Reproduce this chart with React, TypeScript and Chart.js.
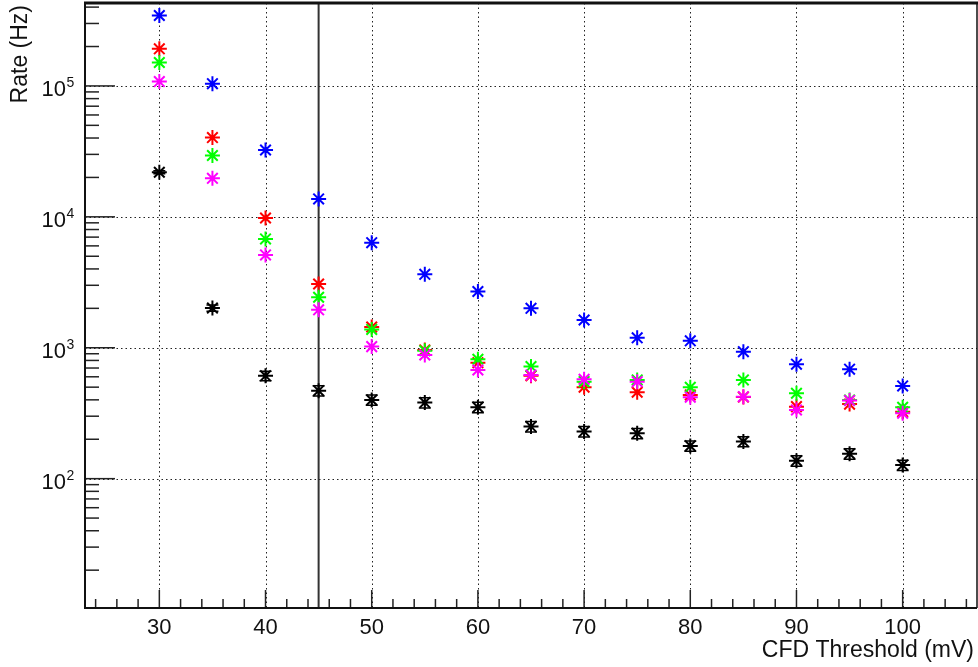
import React, { useEffect, useRef } from "react";
import { Chart, registerables } from "chart.js";

Chart.register(...registerables);

// ---- data ----
const thresholds = [30, 35, 40, 45, 50, 55, 60, 65, 70, 75, 80, 85, 90, 95, 100];
const blueRates = [345000, 104000, 32400, 13700, 6350, 3640, 2690, 2000, 1630, 1190, 1130, 933, 749, 686, 511];
const redRates = [192000, 40300, 9800, 3070, 1440, 962, 769, 610, 499, 457, 436, 420, 355, 371, 325];
const greenRates = [151000, 29400, 6780, 2430, 1380, 950, 817, 718, 551, 568, 499, 568, 449, 399, 351];
const magentaRates = [108000, 19700, 5120, 1950, 1020, 881, 676, 620, 574, 551, 419, 423, 335, 395, 316];
const blackRates = [21900, 2010, 610, 470, 399, 381, 351, 250, 229, 222, 178, 192, 137, 155, 127];
const blackErrors = [600, 110, 50, 42, 36, 34, 32, 23, 21, 20, 16, 17, 12.5, 14, 11.5];

const xTickLabels = [30, 40, 50, 60, 70, 80, 90, 100];
const yTickExponents = [2, 3, 4, 5];
const cutThreshold = 45;
const xTitle = "CFD Threshold (mV)";
const yTitle = "Rate (Hz)";

const FONT = "'Liberation Sans', Arial, Helvetica, sans-serif";

const rootPlugin = {
  id: "rootStyle",
  beforeDatasetsDraw(chart: any) {
    const { ctx, chartArea: a, scales } = chart;
    const x = scales.x;
    const y = scales.y;
    ctx.save();
    // dotted grid
    ctx.strokeStyle = "#222";
    ctx.lineWidth = 1;
    ctx.setLineDash([1.5, 3]);
    for (const v of xTickLabels) {
      const px = Math.round(x.getPixelForValue(v)) + 0.5;
      ctx.beginPath();
      ctx.moveTo(px, a.top);
      ctx.lineTo(px, a.bottom);
      ctx.stroke();
    }
    for (const e of yTickExponents) {
      const py = Math.round(y.getPixelForValue(Math.pow(10, e))) + 0.5;
      ctx.beginPath();
      ctx.moveTo(a.left, py);
      ctx.lineTo(a.right, py);
      ctx.stroke();
    }
    ctx.setLineDash([]);
    // cut line
    const cx = x.getPixelForValue(cutThreshold);
    ctx.strokeStyle = "#333";
    ctx.lineWidth = 2;
    ctx.beginPath();
    ctx.moveTo(cx, a.bottom);
    ctx.lineTo(cx, a.top);
    ctx.stroke();
    // error bars
    ctx.strokeStyle = "#000";
    ctx.lineWidth = 1.5;
    thresholds.forEach((t, i) => {
      const px = x.getPixelForValue(t);
      const yHi = y.getPixelForValue(blackRates[i] + blackErrors[i]);
      const yLo = y.getPixelForValue(blackRates[i] - blackErrors[i]);
      ctx.beginPath();
      ctx.moveTo(px, yLo);
      ctx.lineTo(px, yHi);
      ctx.moveTo(px - 6, yLo);
      ctx.lineTo(px + 6, yLo);
      ctx.moveTo(px - 6, yHi);
      ctx.lineTo(px + 6, yHi);
      ctx.stroke();
    });
    ctx.restore();
  },
  afterDatasetsDraw(chart: any) {
    const { ctx, chartArea: a, scales } = chart;
    const x = scales.x;
    const y = scales.y;
    ctx.save();
    ctx.strokeStyle = "#222";
    // x ticks
    ctx.lineWidth = 1.5;
    for (let v = 24; v <= 106; v += 2) {
      const px = x.getPixelForValue(v);
      const len = v % 10 === 0 ? 18 : 9;
      ctx.beginPath();
      ctx.moveTo(px, a.bottom);
      ctx.lineTo(px, a.bottom - len);
      ctx.stroke();
    }
    // y ticks
    for (let e = 1; e <= 5; e++) {
      for (let m = 1; m <= 9; m++) {
        const v = m * Math.pow(10, e);
        if (v < y.min || v > y.max) continue;
        const py = y.getPixelForValue(v);
        const len = m === 1 ? 30 : 14;
        ctx.beginPath();
        ctx.moveTo(a.left, py);
        ctx.lineTo(a.left + len, py);
        ctx.stroke();
      }
    }
    // frame
    ctx.strokeStyle = "#111";
    ctx.lineWidth = 3;
    ctx.beginPath();
    ctx.moveTo(a.left - 1, a.top);
    ctx.lineTo(a.right + 1, a.top);
    ctx.stroke();
    ctx.lineWidth = 2;
    ctx.beginPath();
    ctx.moveTo(a.left, a.top);
    ctx.lineTo(a.left, a.bottom);
    ctx.lineTo(a.right, a.bottom);
    ctx.stroke();
    ctx.lineWidth = 1.5;
    ctx.beginPath();
    ctx.moveTo(a.right, a.top);
    ctx.lineTo(a.right, a.bottom);
    ctx.stroke();

    // labels
    ctx.fillStyle = "#111";
    ctx.font = `22px ${FONT}`;
    ctx.textAlign = "center";
    ctx.textBaseline = "alphabetic";
    for (const v of xTickLabels) {
      ctx.fillText(String(v), x.getPixelForValue(v), 634);
    }
    for (const e of yTickExponents) {
      const py = y.getPixelForValue(Math.pow(10, e));
      ctx.font = `22px ${FONT}`;
      ctx.textAlign = "right";
      ctx.fillText("10", 66, py + 10.5);
      ctx.font = `14px ${FONT}`;
      ctx.textAlign = "left";
      ctx.fillText(String(e), 66.5, py + 1.5);
    }
    // titles
    ctx.font = `23px ${FONT}`;
    ctx.textAlign = "right";
    ctx.fillText(xTitle, 974, 657);
    ctx.save();
    ctx.translate(27, 5);
    ctx.rotate(-Math.PI / 2);
    ctx.textAlign = "right";
    ctx.fillText(yTitle, 0, 0);
    ctx.restore();
    ctx.restore();
  },
};

function makeSeries(label: string, rates: number[], color: string) {
  return {
    label,
    data: thresholds.map((t, i) => ({ x: t, y: rates[i] })),
    pointStyle: "star",
    pointRadius: 7.5,
    pointHoverRadius: 7.5,
    pointBorderWidth: 2,
    borderColor: color,
    backgroundColor: color,
    showLine: false,
    clip: false,
  };
}

export default function App() {
  const canvasRef = useRef<HTMLCanvasElement | null>(null);

  useEffect(() => {
    if (!canvasRef.current) return;
    const chart = new Chart(canvasRef.current, {
      type: "scatter",
      data: {
        datasets: [
          makeSeries("Magenta", magentaRates, "#ff00ff"),
          makeSeries("Green", greenRates, "#00ff00"),
          makeSeries("Red", redRates, "#ff0000"),
          makeSeries("Blue", blueRates, "#0000ff"),
          makeSeries("Black", blackRates, "#000000"),
        ] as any,
      },
      options: {
        animation: false,
        responsive: false,
        devicePixelRatio: 1,
        layout: { autoPadding: false, padding: { left: 85, top: 3, right: 1, bottom: 59 } },
        plugins: { legend: { display: false }, tooltip: { enabled: false } },
        events: [],
        scales: {
          x: { type: "linear", min: 23, max: 107, display: false },
          y: { type: "logarithmic", min: 10.28, max: 430000, display: false },
        },
      } as any,
      plugins: [rootPlugin],
    });
    return () => chart.destroy();
  }, []);

  return (
    <div style={{ position: "fixed", left: 0, top: 0, width: 978, height: 667, background: "#fff" }}>
      <canvas ref={canvasRef} width={978} height={667} style={{ display: "block" }} />
    </div>
  );
}
